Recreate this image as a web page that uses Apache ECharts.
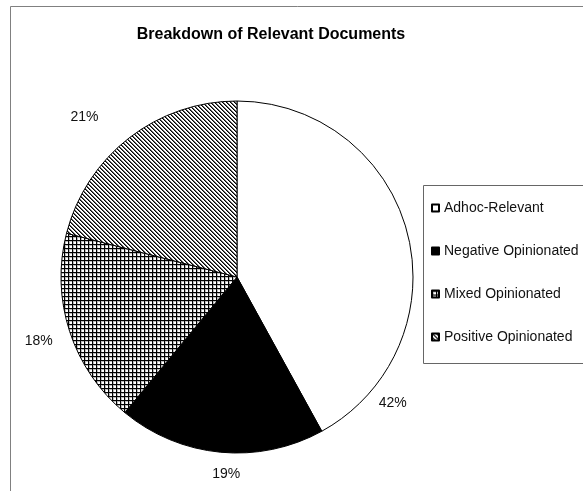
<!DOCTYPE html>
<html>
<head>
<meta charset="utf-8">
<script src="https://cdn.jsdelivr.net/npm/echarts@6/dist/echarts.min.js"></script>
<style>
html,body{margin:0;padding:0;background:#fff;}
#c{width:583px;height:491px;}
</style>
</head>
<body>
<div id="c"></div>
<script>
// ---- data ----
var titleText = 'Breakdown of Relevant Documents';
var categories = ['Adhoc-Relevant', 'Negative Opinionated', 'Mixed Opinionated', 'Positive Opinionated'];
var percents = [42, 19, 18, 21];

// ---- fill patterns ----
function makePattern(kind) {
  var cv = document.createElement('canvas');
  cv.width = 4; cv.height = 4;
  var ctx = cv.getContext('2d');
  ctx.fillStyle = '#fff';
  ctx.fillRect(0, 0, 4, 4);
  for (var y = 0; y < 4; y++) {
    for (var x = 0; x < 4; x++) {
      var col = null;
      if (kind === 'diag') {
        var m = ((x - y) % 4 + 4) % 4;
        if (m === 0) col = '#000';
        else if (m === 1) col = '#666';
      } else if (kind === 'grid') {
        if (x === 0 || y === 0) col = '#000';
        else if (x === 1 || y === 1) col = '#bbb';
      }
      if (col) { ctx.fillStyle = col; ctx.fillRect(x, y, 1, 1); }
    }
  }
  return { image: cv, repeat: 'repeat' };
}
var fills = ['#ffffff', '#000000', makePattern('grid'), makePattern('diag')];
var labelNudge = [[-38, 176], [8, -2], [-8, 2], [-30, -2]];

var chart = echarts.init(document.getElementById('c'), null, { renderer: 'canvas' });
chart.setOption({
  animation: false,
  backgroundColor: '#fff',
  textStyle: { fontFamily: 'Liberation Sans, Arial, sans-serif' },
  graphic: [
    { type: 'line', shape: { x1: 10.5, y1: 6.5, x2: 600, y2: 6.5 }, style: { stroke: '#808080', lineWidth: 1 } },
    { type: 'line', shape: { x1: 10.5, y1: 6.5, x2: 10.5, y2: 600 }, style: { stroke: '#808080', lineWidth: 1 } },
    { type: 'rect', shape: { x: 423.5, y: 185.5, width: 200, height: 178 }, style: { fill: '#fff', stroke: '#666', lineWidth: 1 }, z: -1 },
    { type: 'text', x: 271, y: 35, style: { text: titleText, font: 'bold 16px "Liberation Sans", Arial, sans-serif', fill: '#000', align: 'center', verticalAlign: 'middle' } }
  ],
  legend: {
    orient: 'vertical',
    left: 431,
    top: 201,
    padding: 0,
    itemWidth: 7,
    itemHeight: 7,
    itemGap: 29,
    icon: 'rect',
    textStyle: { fontSize: 14, color: '#111', fontFamily: 'Liberation Sans, Arial, sans-serif', padding: [0, 0, 0, 0] },
    data: categories
  },
  series: [{
    type: 'pie',
    center: [237, 277],
    radius: 176,
    startAngle: 90,
    clockwise: true,
    avoidLabelOverlap: false,
    itemStyle: { borderColor: '#000', borderWidth: 1 },
    label: {
      show: true,
      position: 'outside',
      formatter: function (p) { return p.value + '%'; },
      fontSize: 14,
      color: '#111',
      fontFamily: 'Liberation Sans, Arial, sans-serif'
    },
    labelLine: { show: true, length: 24, length2: 0, lineStyle: { opacity: 0 } },
    labelLayout: function (p) {
      var pts = p.labelLinePoints;
      var n = labelNudge[p.dataIndex];
      if (!pts) return {};
      return { x: pts[1][0] + n[0], y: pts[1][1] + n[1], align: 'center', verticalAlign: 'middle' };
    },
    emphasis: { disabled: true },
    data: categories.map(function (name, i) {
      return { name: name, value: percents[i], itemStyle: { color: fills[i] } };
    })
  }]
});
</script>
</body>
</html>
